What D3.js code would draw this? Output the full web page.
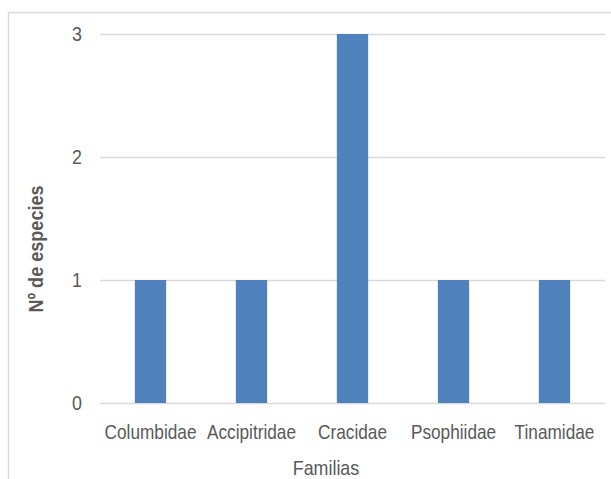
<!DOCTYPE html>
<html>
<head>
<meta charset="utf-8">
<script src="https://cdn.jsdelivr.net/npm/d3@7"></script>
<style>
  html, body { margin: 0; padding: 0; background: #fff; }
  svg { display: block; }
  text { font-family: "Liberation Sans", Arial, sans-serif; fill: #595959; }
</style>
</head>
<body>
<svg id="chart" width="611" height="479"></svg>
<script>
// Number of species per bird family
const families = ["Columbidae", "Accipitridae", "Cracidae", "Psophiidae", "Tinamidae"];
const speciesCount = [1, 1, 3, 1, 1];
const yTicks = [0, 1, 2, 3];
const xTitle = "Familias";
const yTitle = "Nº de especies";

const svg = d3.select("#chart");
const W = 611, H = 479;
const plot = { left: 100, right: 605, top: 34, bottom: 403 };
const FONT = 21;

// narrow the glyphs for a condensed look
function squeeze(sel, k) {
  sel.each(function () {
    const len = this.getComputedTextLength();
    d3.select(this).attr("textLength", len * k).attr("lengthAdjust", "spacingAndGlyphs");
  });
}

// chart-area frame (runs off the right and bottom edges)
svg.append("rect")
  .attr("x", 8.5).attr("y", 12.5)
  .attr("width", W + 20).attr("height", H + 20)
  .attr("fill", "none").attr("stroke", "#d9d9d9").attr("stroke-width", 1.5);

const x = d3.scaleBand()
  .domain(families)
  .range([plot.left, plot.right])
  .paddingInner(0.69)
  .paddingOuter(0.345);

const y = d3.scaleLinear()
  .domain([0, 3])
  .range([plot.bottom, plot.top]);

// horizontal gridlines + value labels
const yAxis = d3.axisLeft(y)
  .tickValues(yTicks)
  .tickFormat(d3.format("d"))
  .tickSize(-(plot.right - plot.left))
  .tickPadding(18);

const gy = svg.append("g")
  .attr("transform", `translate(${plot.left},0)`)
  .call(yAxis);
gy.select(".domain").remove();
gy.selectAll(".tick line").attr("stroke", "#d9d9d9").attr("stroke-width", 1.3);
gy.selectAll(".tick text")
  .attr("font-size", FONT)
  .style("font-family", "'Liberation Sans', Arial, sans-serif")
  .attr("fill", "#595959")
  .call(squeeze, 0.85);

// bars
svg.append("g")
  .selectAll("rect")
  .data(families.map((f, i) => ({ f, v: speciesCount[i] })))
  .join("rect")
  .attr("x", d => x(d.f))
  .attr("y", d => y(d.v))
  .attr("width", x.bandwidth())
  .attr("height", d => y(0) - y(d.v))
  .attr("fill", "#4f81bd");

// category labels
const xAxis = d3.axisBottom(x).tickSize(0).tickPadding(21);
const gx = svg.append("g")
  .attr("transform", `translate(0,${plot.bottom})`)
  .call(xAxis);
gx.select(".domain").remove();
gx.selectAll(".tick text")
  .attr("font-size", FONT)
  .style("font-family", "'Liberation Sans', Arial, sans-serif")
  .attr("fill", "#595959")
  .call(squeeze, 0.82);

// axis titles
svg.append("text")
  .attr("x", 326)
  .attr("y", 475)
  .attr("text-anchor", "middle")
  .attr("font-size", FONT)
  .text(xTitle)
  .call(squeeze, 0.85);

svg.append("text")
  .attr("transform", `translate(43,249) rotate(-90)`)
  .attr("text-anchor", "middle")
  .attr("font-size", FONT)
  .attr("font-weight", "bold")
  .text(yTitle)
  .call(squeeze, 0.86);
</script>
</body>
</html>
